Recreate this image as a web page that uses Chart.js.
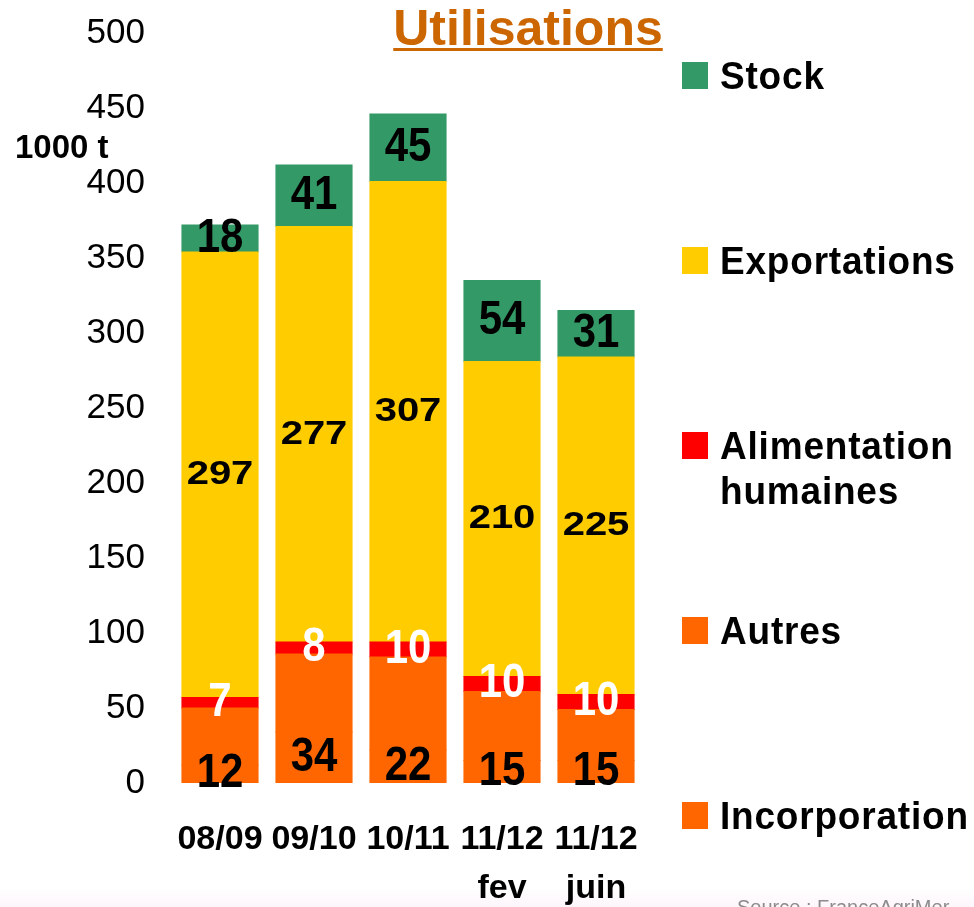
<!DOCTYPE html>
<html lang="fr">
<head>
<meta charset="utf-8">
<title>Utilisations</title>
<script src="https://cdn.jsdelivr.net/npm/chart.js@4.4.1/dist/chart.umd.min.js"></script>
<style>
    html, body {
        margin: 0;
        padding: 0;
        background: linear-gradient(to bottom, #ffffff 0px, #ffffff 888px, #fdf5fb 907px);
    }
    #utilisationsChart {
        display: block;
    }
</style>
</head>
<body>
<canvas id="utilisationsChart" width="974" height="907"></canvas>
<script>
// Campaigns (second line is the month of the estimate)
const campaigns = [['08/09'], ['09/10'], ['10/11'], ['11/12', 'fev'], ['11/12', 'juin']];

// Uses, in 1000 t (stacked from the bottom up)
const incorporation = [12, 34, 22, 15, 15];
const autres = [38, 52, 62, 46, 34];
const alimentation = [7, 8, 10, 10, 10];
const exportations = [297, 277, 307, 210, 225];
const stock = [18, 41, 45, 54, 31];

const yTicks = [0, 50, 100, 150, 200, 250, 300, 350, 400, 450, 500];

const FONT = '"Liberation Sans", Arial, sans-serif';

// Label style per series (null = no value labels)
const valueLabelStyle = {
    'Incorporation': { size: 42, stretch: 1.16, color: '#000000' },
    'Autres': null,
    'Alimentation humaines': { size: 42, stretch: 1.16, color: '#ffffff' },
    'Exportations': { size: 40, stretch: 0.84, color: '#000000' },
    'Stock': { size: 42, stretch: 1.16, color: '#000000' }
};

// Draw text with a vertical stretch around (x, y)
function drawStretchedText(ctx, text, x, y, size, stretch, align, baseline, spacing) {
    ctx.save();
    ctx.translate(x, y);
    ctx.scale(1, stretch);
    ctx.font = 'bold ' + size + 'px ' + FONT;
    ctx.letterSpacing = (spacing || 0) + 'px';
    ctx.textAlign = align || 'center';
    ctx.textBaseline = baseline || 'middle';
    ctx.fillText(text, 0, 0);
    ctx.restore();
}

// Value labels in the middle of each segment
const valueLabels = {
    id: 'valueLabels',
    afterDatasetsDraw(chart) {
        const ctx = chart.ctx;
        chart.data.datasets.forEach((dataset, i) => {
            const style = valueLabelStyle[dataset.label];
            if (!style) return;
            const meta = chart.getDatasetMeta(i);
            meta.data.forEach((bar, j) => {
                const y = (bar.y + bar.base) / 2;
                ctx.fillStyle = style.color;
                drawStretchedText(ctx, String(dataset.data[j]), bar.x, y, style.size, style.stretch);
            });
        });
    }
};

// Title, unit and legend on the right
const decorations = {
    id: 'decorations',
    afterDraw(chart) {
        const ctx = chart.ctx;

        // Underlined title
        ctx.save();
        ctx.font = 'bold 50px ' + FONT;
        ctx.fillStyle = '#cc6600';
        ctx.textAlign = 'center';
        ctx.textBaseline = 'alphabetic';
        const title = 'Utilisations';
        const titleX = 528;
        ctx.fillText(title, titleX, 45);
        const w = ctx.measureText(title).width;
        ctx.fillRect(titleX - w / 2, 48, w, 3);
        ctx.restore();

        // Unit
        ctx.save();
        ctx.font = 'bold 33px ' + FONT;
        ctx.fillStyle = '#000000';
        ctx.textAlign = 'left';
        ctx.textBaseline = 'alphabetic';
        ctx.fillText('1000 t', 15, 158);
        ctx.restore();

        // Legend, top series first
        const datasets = chart.data.datasets.slice().reverse();
        datasets.forEach((dataset, i) => {
            const cy = 75 + i * 185;
            ctx.fillStyle = dataset.backgroundColor;
            ctx.fillRect(682, cy - 13, 26, 27);
            ctx.fillStyle = '#000000';
            const words = dataset.label === 'Alimentation humaines'
                ? ['Alimentation', 'humaines']
                : [dataset.label];
            words.forEach((line, k) => {
                drawStretchedText(ctx, line, 720, cy + 14 + k * 45, 37, 1.06, 'left', 'alphabetic', 0.8);
            });
        });

        // Source
        ctx.save();
        ctx.font = '20px ' + FONT;
        ctx.fillStyle = '#8c8c8c';
        ctx.textAlign = 'left';
        ctx.textBaseline = 'top';
        ctx.fillText('Source : FranceAgriMer', 737, 898);
        ctx.restore();
    }
};

function createUtilisationsChart() {
    const ctx = document.getElementById('utilisationsChart').getContext('2d');

    new Chart(ctx, {
        type: 'bar',
        data: {
            labels: campaigns,
            datasets: [
                { label: 'Incorporation', data: incorporation, backgroundColor: '#ff6600' },
                { label: 'Autres', data: autres, backgroundColor: '#ff6600' },
                { label: 'Alimentation humaines', data: alimentation, backgroundColor: '#ff0000' },
                { label: 'Exportations', data: exportations, backgroundColor: '#ffcc00' },
                { label: 'Stock', data: stock, backgroundColor: '#339966' }
            ]
        },
        options: {
            responsive: false,
            animation: false,
            layout: {
                padding: { left: 0, top: 33, right: 331, bottom: 0 }
            },
            datasets: {
                bar: {
                    categoryPercentage: 1,
                    barPercentage: 0.81,
                    borderWidth: 0,
                    inflateAmount: 0.5
                }
            },
            scales: {
                x: {
                    stacked: true,
                    grid: { display: false, drawTicks: false },
                    border: { display: false },
                    ticks: {
                        color: '#000000',
                        font: { family: FONT, size: 34, weight: 'bold', lineHeight: 1.45 },
                        padding: 32,
                        maxRotation: 0,
                        autoSkip: false
                    },
                    afterFit(scale) {
                        scale.height = 124;
                    }
                },
                y: {
                    stacked: true,
                    min: yTicks[0],
                    max: yTicks[yTicks.length - 1],
                    grid: { display: false, drawTicks: false },
                    border: { display: false },
                    afterBuildTicks(scale) {
                        scale.ticks = yTicks.map(v => ({ value: v }));
                    },
                    ticks: {
                        color: '#000000',
                        font: { family: FONT, size: 35 },
                        padding: 28
                    },
                    afterFit(scale) {
                        scale.width = 173;
                        scale.paddingTop = 0;
                        scale.paddingBottom = 0;
                    }
                }
            },
            plugins: {
                legend: { display: false },
                title: { display: false },
                tooltip: { enabled: false }
            }
        },
        plugins: [valueLabels, decorations]
    });
}

document.addEventListener('DOMContentLoaded', createUtilisationsChart);
</script>
</body>
</html>
